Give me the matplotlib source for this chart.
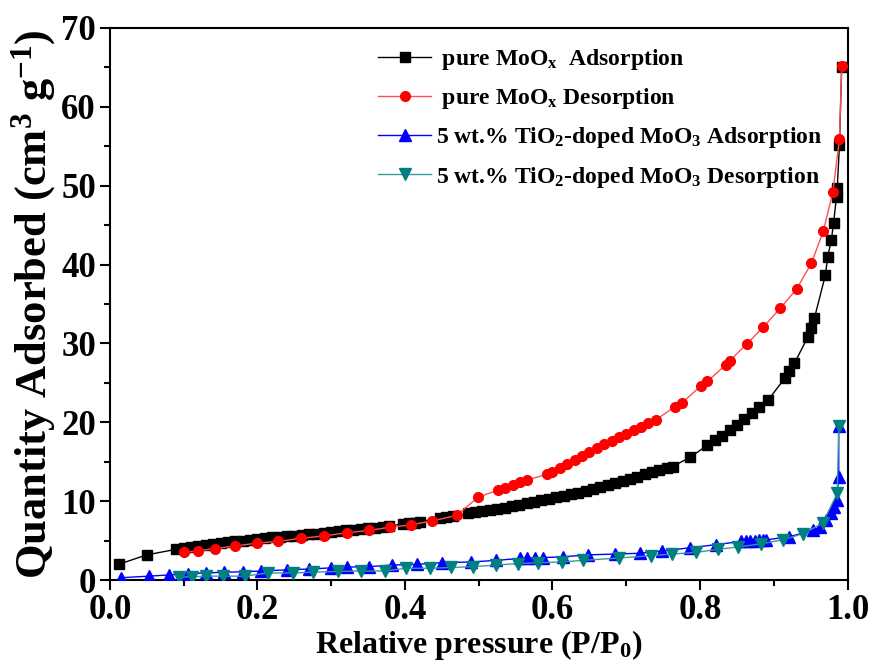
import matplotlib
matplotlib.use('Agg')
import matplotlib.pyplot as plt
from matplotlib.ticker import MultipleLocator

plt.rcParams['font.family'] = ['Liberation Serif', 'DejaVu Serif']
plt.rcParams['font.weight'] = 'bold'
plt.rcParams['axes.labelweight'] = 'bold'
plt.rcParams['mathtext.fontset'] = 'custom'
plt.rcParams['mathtext.rm'] = 'Liberation Serif:bold'
plt.rcParams['mathtext.it'] = 'Liberation Serif:bold'
plt.rcParams['mathtext.bf'] = 'Liberation Serif:bold'

# pure MoOx adsorption
moox_ads_x = [0.012, 0.050, 0.090, 0.100, 0.110, 0.120, 0.130, 0.140, 0.150, 0.160, 0.170, 0.180,
              0.190, 0.200, 0.210, 0.220, 0.230, 0.240, 0.250, 0.260, 0.270, 0.280, 0.290, 0.300,
              0.310, 0.320, 0.330, 0.340, 0.350, 0.360, 0.370, 0.378, 0.397, 0.405, 0.413, 0.421,
              0.447, 0.455, 0.465, 0.485, 0.495, 0.505, 0.515, 0.525, 0.535, 0.545, 0.555, 0.565,
              0.575, 0.585, 0.595, 0.605, 0.615, 0.625, 0.635, 0.645, 0.655, 0.665, 0.675, 0.685,
              0.695, 0.705, 0.715, 0.725, 0.735, 0.745, 0.755, 0.763, 0.787, 0.810, 0.820, 0.830,
              0.840, 0.850, 0.860, 0.870, 0.880, 0.892, 0.915, 0.921, 0.928, 0.946, 0.951, 0.955,
              0.970, 0.973, 0.978, 0.981, 0.985, 0.986, 0.989, 0.992]
moox_ads_y = [2.0, 3.2, 3.9, 4.05, 4.2, 4.3, 4.45, 4.55, 4.7, 4.8, 4.9, 5.0,
              5.1, 5.2, 5.3, 5.4, 5.45, 5.55, 5.65, 5.75, 5.85, 5.9, 6.0, 6.1,
              6.2, 6.3, 6.4, 6.45, 6.55, 6.65, 6.75, 6.8, 7.15, 7.25, 7.3, 7.4,
              7.85, 7.95, 8.1, 8.45, 8.6, 8.75, 8.9, 9.05, 9.2, 9.4, 9.55, 9.75,
              9.95, 10.1, 10.3, 10.5, 10.7, 10.9, 11.1, 11.35, 11.6, 11.8, 12.05, 12.3,
              12.55, 12.8, 13.1, 13.4, 13.7, 13.95, 14.2, 14.4, 15.6, 17.1, 17.7, 18.3,
              19.0, 19.7, 20.4, 21.2, 22.0, 22.8, 25.6, 26.5, 27.5, 30.8, 32.0, 33.2,
              38.7, 41.0, 43.1, 45.3, 48.6, 49.7, 55.2, 65.0]

# pure MoOx desorption
moox_des_x = [0.992, 0.989, 0.980, 0.967, 0.951, 0.931, 0.909, 0.886, 0.863, 0.840, 0.835,
              0.810, 0.801, 0.776, 0.766, 0.740, 0.730, 0.720, 0.710, 0.700, 0.690, 0.680,
              0.670, 0.660, 0.650, 0.640, 0.630, 0.620, 0.610, 0.600, 0.592, 0.566, 0.556,
              0.546, 0.536, 0.526, 0.499, 0.470, 0.437, 0.408, 0.380, 0.351, 0.321, 0.290,
              0.259, 0.228, 0.200, 0.169, 0.142, 0.119, 0.100]
moox_des_y = [65.2, 55.9, 49.2, 44.2, 40.2, 36.9, 34.5, 32.1, 29.9, 27.8, 27.3,
              25.2, 24.6, 22.5, 22.0, 20.3, 19.9, 19.4, 19.0, 18.5, 18.1, 17.6,
              17.2, 16.7, 16.2, 15.7, 15.2, 14.7, 14.2, 13.7, 13.4, 12.7, 12.4,
              12.0, 11.7, 11.4, 10.5, 8.2, 7.5, 7.0, 6.7, 6.3, 6.0, 5.6,
              5.3, 4.9, 4.7, 4.3, 4.0, 3.7, 3.5]

# 5 wt.% TiO2-doped MoO3 adsorption
tio2_ads_x = [0.015, 0.053, 0.080, 0.106, 0.130, 0.155, 0.180, 0.205, 0.240, 0.270, 0.300,
              0.321, 0.351, 0.382, 0.416, 0.450, 0.490, 0.524, 0.556, 0.566, 0.576, 0.587,
              0.614, 0.648, 0.685, 0.718, 0.749, 0.787, 0.822, 0.856, 0.862, 0.868, 0.874,
              0.880, 0.886, 0.890, 0.921, 0.953, 0.962, 0.971, 0.978, 0.982, 0.985, 0.988,
              0.988]
tio2_ads_y = [0.3, 0.5, 0.65, 0.8, 0.9, 1.0, 1.05, 1.15, 1.3, 1.4, 1.55,
              1.65, 1.7, 1.9, 2.0, 2.2, 2.3, 2.5, 2.75, 2.8, 2.8, 2.85,
              2.95, 3.2, 3.3, 3.4, 3.7, 4.1, 4.5, 4.9, 4.95, 5.0, 5.0,
              5.05, 5.1, 5.1, 5.5, 6.3, 6.7, 7.6, 8.5, 9.3, 10.1, 13.1,
              19.5]

# 5 wt.% TiO2-doped MoO3 desorption
tio2_des_x = [0.988, 0.986, 0.966, 0.940, 0.912, 0.883, 0.852, 0.824, 0.794, 0.762, 0.734,
              0.690, 0.641, 0.613, 0.581, 0.553, 0.523, 0.492, 0.463, 0.434, 0.402, 0.373,
              0.340, 0.309, 0.275, 0.248, 0.214, 0.183, 0.153, 0.130, 0.112, 0.094]
tio2_des_y = [19.5, 11.0, 7.2, 5.9, 5.1, 4.6, 4.2, 3.9, 3.5, 3.3, 3.1,
              2.8, 2.5, 2.3, 2.2, 2.1, 1.9, 1.7, 1.6, 1.5, 1.5, 1.15,
              1.15, 1.1, 1.0, 0.9, 0.9, 0.5, 0.5, 0.5, 0.4, 0.4]

labels = [r' pure MoO$_\mathregular{x}$  Adsorption',
          r' pure MoO$_\mathregular{x}$ Desorption',
          r'5 wt.% TiO$_\mathregular{2}$-doped MoO$_\mathregular{3}$ Adsorption',
          r'5 wt.% TiO$_\mathregular{2}$-doped MoO$_\mathregular{3}$ Desorption']

fig = plt.figure(figsize=(8.72, 6.66), dpi=100)
ax = fig.add_axes([0.126, 0.129, 0.846, 0.829])

ax.plot(moox_ads_x, moox_ads_y, color='black', lw=1.0, marker='s', ms=6.5,
        mec='black', mfc='black', label=labels[0], zorder=3)
ax.plot(moox_des_x, moox_des_y, color='#ff5050', lw=1.0, marker='o', ms=7,
        mec='#ff0000', mfc='#ff0000', label=labels[1], zorder=4)
ax.plot(tio2_ads_x, tio2_ads_y, color='#0000ff', lw=1.0, marker='^', ms=8,
        mec='#0000ff', mfc='#0000ff', label=labels[2], zorder=5)
ax.plot(tio2_des_x, tio2_des_y, color='#3a9a9a', lw=1.0, marker='v', ms=8,
        mec='#008080', mfc='#008080', label=labels[3], zorder=6)

ax.set_xlim(0, 1.0)
ax.set_ylim(0, 70)
ax.xaxis.set_major_locator(MultipleLocator(0.2))
ax.xaxis.set_minor_locator(MultipleLocator(0.1))
ax.yaxis.set_major_locator(MultipleLocator(10))
ax.yaxis.set_minor_locator(MultipleLocator(5))
ax.xaxis.set_major_formatter(matplotlib.ticker.FormatStrFormatter('%.1f'))
ax.tick_params(which='both', direction='out', top=False, right=False, width=1.5)
ax.tick_params(which='major', length=7, labelsize=25, pad=3)
ax.tick_params(which='minor', length=4)
for s in ax.spines.values():
    s.set_linewidth(1.5)

ax.set_xlabel(r'Relative pressure (P/P$_\mathregular{0}$)', fontsize=23, labelpad=1)
ax.set_ylabel(r'Quantity Adsorbed (cm$^\mathregular{3}$ g$^\mathregular{-1}$)', fontsize=32, labelpad=2)

leg = ax.legend(loc='upper left', bbox_to_anchor=(0.335, 1.004), frameon=False,
                fontsize=17, handlelength=2.25, handletextpad=0.2, labelspacing=0.6,
                markerscale=1.0, numpoints=1)

fig.savefig('out.png', dpi=100)
